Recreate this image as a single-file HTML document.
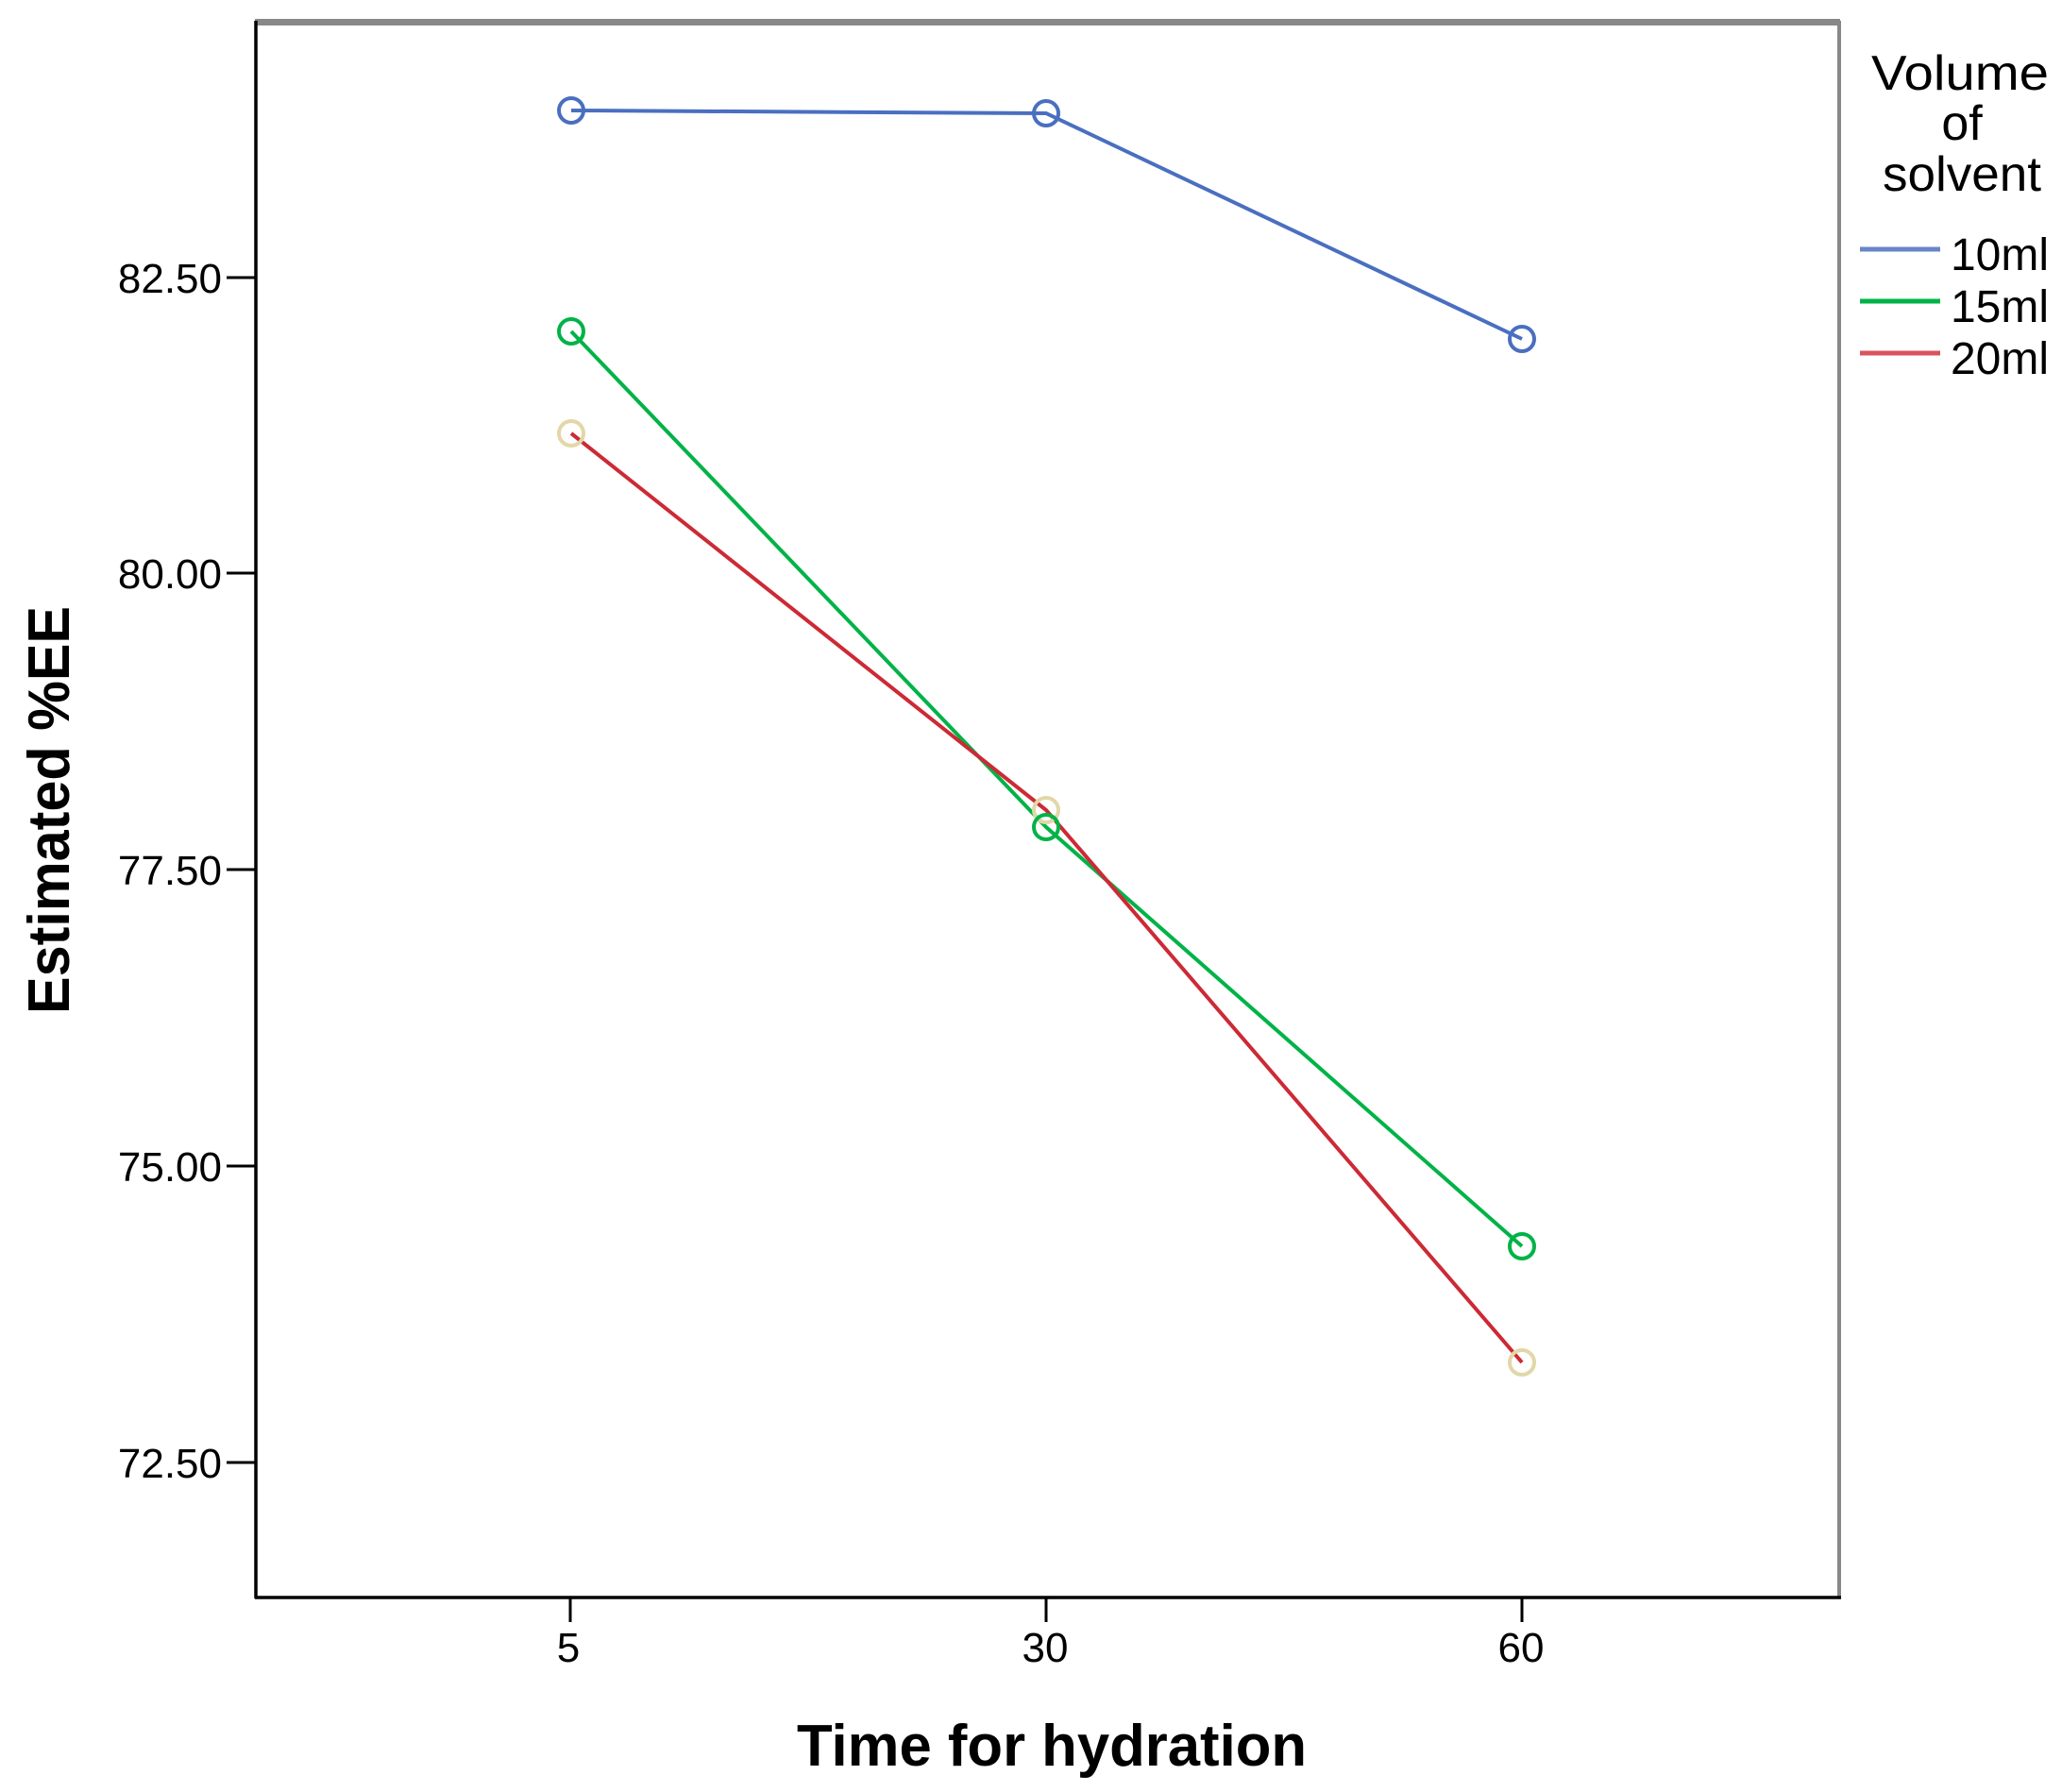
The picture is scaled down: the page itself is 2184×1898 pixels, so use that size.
<!DOCTYPE html>
<html><head><meta charset="utf-8"><style>html,body{margin:0;padding:0;background:#fff}svg{display:block}</style></head>
<body>
<svg width="2184" height="1898" viewBox="0 0 2184 1898" xmlns="http://www.w3.org/2000/svg" font-family="Liberation Sans, Arial, sans-serif">
<rect width="2184" height="1898" fill="#fff"/>
<!-- frame -->
<line x1="270" y1="23.5" x2="1949" y2="23.5" stroke="#888" stroke-width="7"/>
<line x1="1948" y1="22" x2="1948" y2="1692" stroke="#888" stroke-width="4"/>
<line x1="271" y1="22" x2="271" y2="1693" stroke="#000" stroke-width="3.5"/>
<line x1="270" y1="1692" x2="1950" y2="1692" stroke="#000" stroke-width="3.5"/>
<g stroke="#000" stroke-width="3">
<line x1="240" y1="294" x2="271" y2="294"/>
<line x1="240" y1="607" x2="271" y2="607"/>
<line x1="240" y1="921" x2="271" y2="921"/>
<line x1="240" y1="1235" x2="271" y2="1235"/>
<line x1="240" y1="1549" x2="271" y2="1549"/>
<line x1="604" y1="1692" x2="604" y2="1718"/>
<line x1="1108" y1="1692" x2="1108" y2="1718"/>
<line x1="1612" y1="1692" x2="1612" y2="1718"/>
</g>
<g font-size="44" fill="#000" text-anchor="end">
<text x="235" y="310">82.50</text>
<text x="235" y="623">80.00</text>
<text x="235" y="937">77.50</text>
<text x="235" y="1251">75.00</text>
<text x="235" y="1565">72.50</text>
</g>
<g font-size="44" fill="#000" text-anchor="middle">
<text x="602" y="1760">5</text>
<text x="1107" y="1760">30</text>
<text x="1611" y="1760">60</text>
</g>
<text x="844" y="1870" font-size="62" font-weight="bold" textLength="540" lengthAdjust="spacingAndGlyphs">Time for hydration</text>
<text transform="translate(73,1074) rotate(-90)" font-size="62" font-weight="bold" textLength="432" lengthAdjust="spacingAndGlyphs">Estimated %EE</text>
<g fill="none" stroke-width="4">
<polyline points="605,117 1108,120 1612,359" stroke="#4a6fc0"/>
<polyline points="605,351 1108,876 1612,1320" stroke="#00b347"/>
<polyline points="605,459 1108,858 1612,1443" stroke="#cc2a35"/>
</g>
<g fill="none" stroke-width="4">
<circle cx="605" cy="117" r="13" stroke="#4a6fc0"/>
<circle cx="1108" cy="120" r="13" stroke="#4a6fc0"/>
<circle cx="1612" cy="359" r="13" stroke="#4a6fc0"/>
<circle cx="605" cy="459" r="13" stroke="#e2d7a8"/>
<circle cx="1108" cy="858" r="13" stroke="#e2d7a8"/>
<circle cx="1612" cy="1443" r="13" stroke="#e2d7a8"/>
<circle cx="605" cy="351" r="13" stroke="#00b347"/>
<circle cx="1108" cy="876" r="13" stroke="#00b347"/>
<circle cx="1612" cy="1320" r="13" stroke="#00b347"/>
</g>
<g font-size="52" fill="#000" text-anchor="middle">
<text x="2076" y="95" textLength="188" lengthAdjust="spacingAndGlyphs">Volume</text>
<text x="2078" y="148">of</text>
<text x="2078" y="202" textLength="168" lengthAdjust="spacingAndGlyphs">solvent</text>
</g>
<g stroke-width="5">
<line x1="1970" y1="264" x2="2055" y2="264" stroke="#6a86c8"/>
<line x1="1970" y1="319" x2="2055" y2="319" stroke="#00b347"/>
<line x1="1970" y1="374" x2="2055" y2="374" stroke="#d9545d"/>
</g>
<g font-size="48" fill="#000">
<text x="2066" y="286" textLength="104" lengthAdjust="spacingAndGlyphs">10ml</text>
<text x="2066" y="341" textLength="104" lengthAdjust="spacingAndGlyphs">15ml</text>
<text x="2066" y="396" textLength="104" lengthAdjust="spacingAndGlyphs">20ml</text>
</g>
</svg>
</body></html>
